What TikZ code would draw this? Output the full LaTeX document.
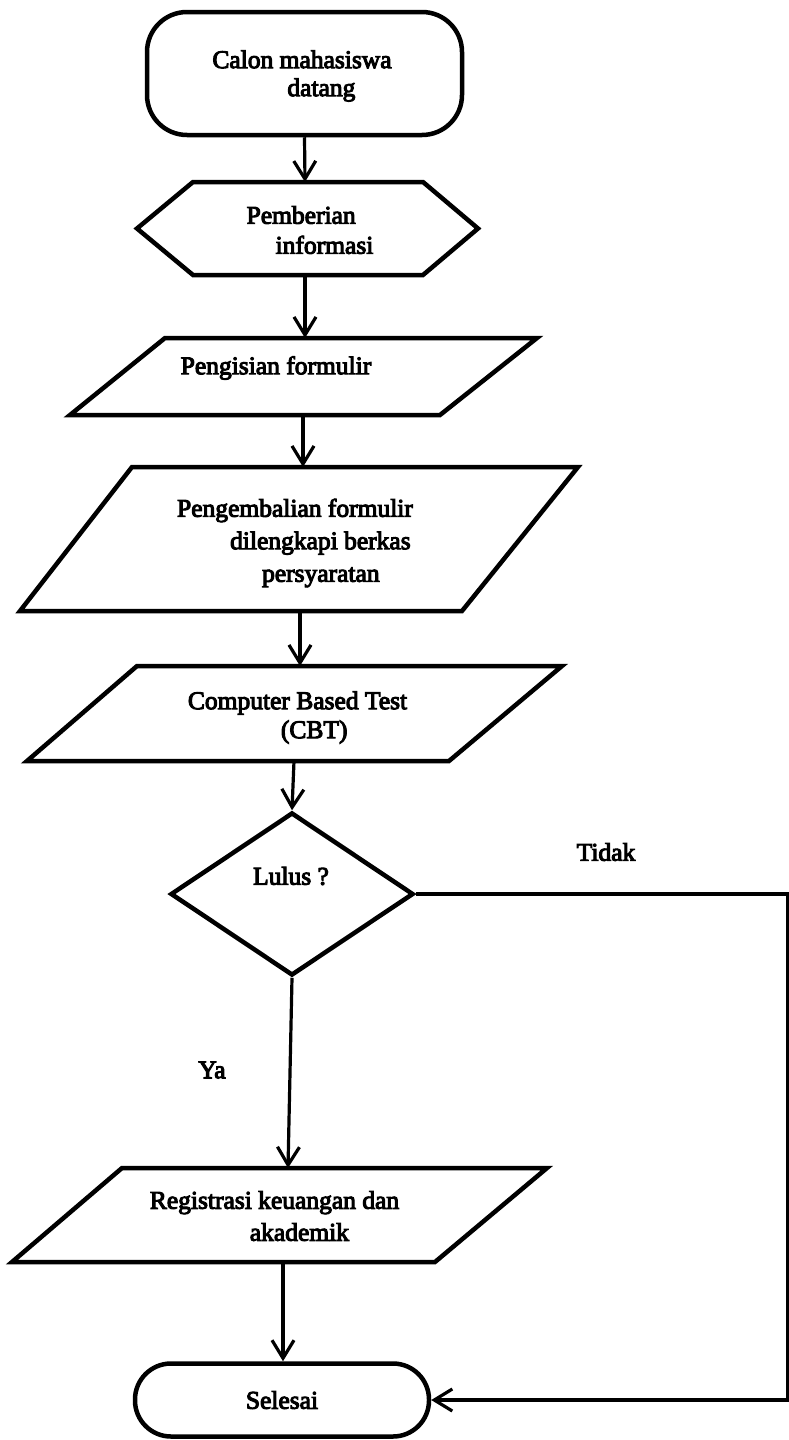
\documentclass[tikz,border=0pt]{standalone}
\usepackage{fontspec}
\setmainfont{Liberation Serif}[FakeBold=4]
\usetikzlibrary{arrows.meta,shapes.geometric}
\begin{document}
\begin{tikzpicture}[x=1pt,y=-1pt,
  box/.style={draw=black,line width=4.5pt},
  term/.style={box,rectangle,inner sep=0pt},
  flow/.style={draw=black,line width=3.2pt,-{Straight Barb[length=18pt,width=22pt]}},
  lbl/.style={font=\fontsize{25.5}{#1}\selectfont,inner sep=0pt,align=left,text=black},
  lbl/.default=29
]
\fill[white] (0,0) rectangle (788,1440);
\useasboundingbox (0,0) rectangle (788,1440);

% start terminator
\node[term,rounded corners=40pt,minimum width=315pt,minimum height=123pt] (start) at (304.5,73.5) {};
\node[lbl=28] (startT) at (302,76) {Calon mahasiswa\\\hspace*{75pt}datang};

% hexagon
\draw[box] (193,182) -- (423,182) -- (478,228.5) -- (423,275) -- (193,275) -- (137,228.5) -- cycle;
\coordinate (hexN) at (305,182);
\coordinate (hexS) at (305,275);
\node[lbl=30] (hexT) at (310,230) {Pemberian\\\hspace*{29pt}informasi};

% parallelogram 1
\draw[box] (165,338) -- (537,338) -- (440,415) -- (70,415) -- cycle;
\coordinate (p1N) at (305,338);
\coordinate (p1S) at (303,415);
\node[lbl] (p1T) at (276,368) {Pengisian formulir};

% parallelogram 2
\draw[box] (132,467) -- (578,467) -- (462,611) -- (20,611) -- cycle;
\coordinate (p2N) at (303,467);
\coordinate (p2S) at (300,611);
\node[lbl=32.5] (p2T) at (295,543) {Pengembalian formulir\\\hspace*{53pt}dilengkapi berkas\\\hspace*{85pt}persyaratan};

% parallelogram 3 (CBT)
\draw[box] (137,666) -- (562,666) -- (449,761) -- (27,761) -- cycle;
\coordinate (cbtN) at (300,666);
\coordinate (cbtS) at (294,761);
\node[lbl] (cbtT) at (297.5,717.5) {Computer Based Test\\\hspace*{93pt}(CBT)};

% decision
\node[box,diamond,minimum width=243pt,minimum height=163pt,inner sep=0pt] (dia) at (292,894) {};
\node[lbl] (diaT) at (291,876) {Lulus ?};

% parallelogram 4 (registrasi)
\draw[box] (122,1168) -- (547,1168) -- (435,1262) -- (12,1262) -- cycle;
\coordinate (regN) at (288,1168);
\coordinate (regS) at (283,1262);
\node[lbl=32] (regT) at (274.5,1216) {Registrasi keuangan dan\\\hspace*{100pt}akademik};

% end terminator
\node[term,rounded corners=36pt,minimum width=294pt,minimum height=73pt,font=\fontsize{25.5}{29}\selectfont] (sel) at (282,1400) {Selesai};

% branch labels
\node[lbl] (tidak) at (606,852) {Tidak};
\node[lbl] (ya) at (212,1070) {Ya};

% connectors
\draw[flow] (start.south) -- (hexN);
\draw[flow] (hexS) -- (p1N);
\draw[flow] (p1S) -- (p2N);
\draw[flow] (p2S) -- (cbtN);
\draw[flow] (cbtS) -- (dia.north);
\draw[flow] (dia.south) -- (regN);
\draw[flow] (regS) -- (regS |- sel.north);
\coordinate (rt) at (788,894);
\coordinate (rb) at (788,1400);
\draw[flow] (dia.east) -- (rt) -- (rb) -- (sel.east);
\end{tikzpicture}
\end{document}
